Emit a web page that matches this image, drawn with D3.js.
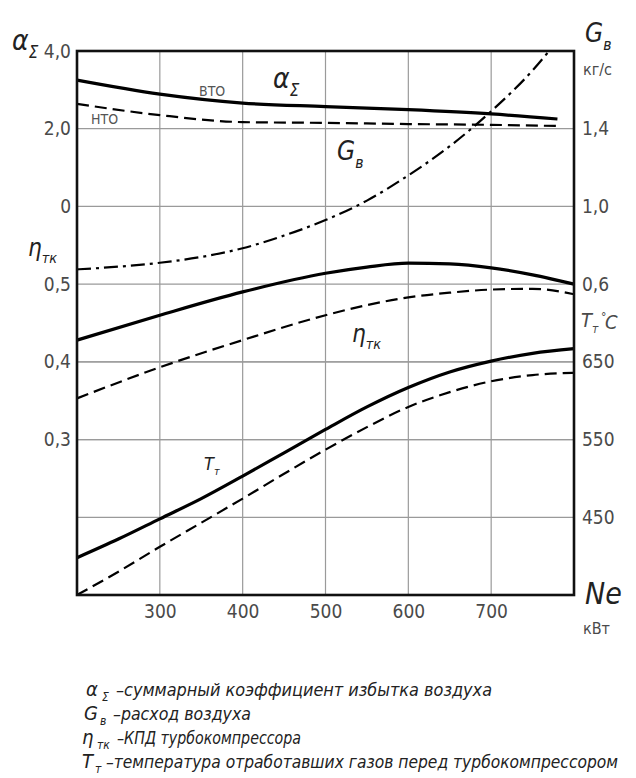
<!DOCTYPE html>
<html><head><meta charset="utf-8">
<script src="https://cdn.jsdelivr.net/npm/d3@7"></script>
<style>
html,body{margin:0;padding:0;background:#fff;}
svg text{font-family:"Liberation Sans Narrow","DejaVu Sans Condensed","Roboto",sans-serif;}
</style></head>
<body><svg id="c" width="636" height="778"></svg>
<script>
// ---- data ----
const alphaNe = [200, 300, 400, 500, 600, 700, 780];
const alphaHTO = [3.25, 2.89, 2.66, 2.57, 2.49, 2.38, 2.25];   // ВТО (solid)
const alphaLTO = [2.64, 2.35, 2.17, 2.15, 2.12, 2.10, 2.07];   // НТО (dashed)
const gNe = [200, 250, 300, 350, 400, 450, 500, 550, 600, 650, 700, 750, 770];
const gAir = [0.676, 0.69, 0.71, 0.74, 0.785, 0.85, 0.93, 1.03, 1.16, 1.31, 1.49, 1.70, 1.80];
const etaNe = [200, 300, 400, 500, 550, 600, 650, 700, 750, 800];
const etaHTO = [0.428, 0.46, 0.49, 0.514, 0.522, 0.527, 0.526, 0.521, 0.512, 0.50];
const etaLTO = [0.353, 0.393, 0.428, 0.46, 0.473, 0.483, 0.489, 0.493, 0.494, 0.487];
const tNe = [200, 250, 300, 350, 400, 450, 500, 550, 600, 650, 700, 750, 800];
const tHTO = [398, 422, 448, 474, 503, 533, 563, 592, 617, 637, 651, 661, 667];
const tLTO = [350, 380, 412, 443, 474, 506, 537, 566, 592, 611, 625, 633, 636];

const xTicks = [300, 400, 500, 600, 700];
const alphaTicks = [4.0, 2.0, 0];
const etaTicks = [0.5, 0.4, 0.3];
const gTicks = [1.4, 1.0, 0.6];
const tTicks = [650, 550, 450];

const legendSym = ["α", "G", "η", "T"];
const legendSub = ["Σ", "в", "тк", "т"];
const legendText = ["–суммарный коэффициент избытка воздуха", "–расход воздуха", "–КПД турбокомпрессора", "–температура отработавших газов перед турбокомпрессором"];

// ---- layout ----
const L = 77, R = 574, T = 51, B = 595;
const svg = d3.select("#c");
const x = d3.scaleLinear().domain([200, 800]).range([L, R]);
const row = d3.scaleLinear().domain([0, 7]).range([T, B]);
const yA = d3.scaleLinear().domain([4, 0]).range([row(0), row(2)]);
const yG = d3.scaleLinear().domain([1.8, 0.6]).range([row(0), row(3)]);
const yE = d3.scaleLinear().domain([0.6, 0.2]).range([row(2), row(6)]);
const yT = d3.scaleLinear().domain([650, 350]).range([row(4), row(7)]);
const fmt = v => (v === 0 ? "0" : v.toFixed(1).replace(".", ","));

const grey = "#4a4a4a";
// grid
const gridY = [...alphaTicks.map(yA), ...etaTicks.map(yE), ...tTicks.map(yT)].filter(v => v > T + 1 && v < B - 1);
svg.append("g").selectAll("line").data(gridY).join("line")
  .attr("x1", L).attr("x2", R).attr("y1", d => d).attr("y2", d => d)
  .attr("stroke", "#9a9a9a").attr("stroke-width", 1.2);
svg.append("g").selectAll("line").data(xTicks).join("line")
  .attr("x1", d => x(d)).attr("x2", d => x(d)).attr("y1", T).attr("y2", B)
  .attr("stroke", "#9a9a9a").attr("stroke-width", 1.2);

// axes (labels only)
function styleAxis(g) {
  g.select(".domain").remove();
  g.selectAll("text").attr("font-size", 19).attr("fill", grey)
   .attr("font-family", '"Liberation Sans Narrow","DejaVu Sans Condensed",Roboto,sans-serif');
}
styleAxis(svg.append("g").attr("transform", `translate(0,${B})`)
  .call(d3.axisBottom(x).tickValues(xTicks).tickSize(0).tickPadding(10).tickFormat(d => d)));
styleAxis(svg.append("g").attr("transform", `translate(${L},0)`)
  .call(d3.axisLeft(yA).tickValues(alphaTicks).tickSize(0).tickPadding(6).tickFormat(fmt)));
styleAxis(svg.append("g").attr("transform", `translate(${L},0)`)
  .call(d3.axisLeft(yE).tickValues(etaTicks).tickSize(0).tickPadding(6).tickFormat(fmt)));
styleAxis(svg.append("g").attr("transform", `translate(${R},0)`)
  .call(d3.axisRight(yG).tickValues(gTicks).tickSize(0).tickPadding(8).tickFormat(fmt)));
styleAxis(svg.append("g").attr("transform", `translate(${R},0)`)
  .call(d3.axisRight(yT).tickValues(tTicks).tickSize(0).tickPadding(8).tickFormat(d => d)));

// curves
function draw(xs, ys, yScale, style) {
  const pts = xs.map((v, i) => [x(v), yScale(ys[i])]);
  const p = svg.append("path").attr("d", d3.line().curve(d3.curveMonotoneX)(pts))
    .attr("fill", "none").attr("stroke", "#000")
    .attr("stroke-linecap", "butt").attr("stroke-linejoin", "round");
  if (style === "solid") p.attr("stroke-width", 3.2);
  if (style === "dash") p.attr("stroke-width", 2.2).attr("stroke-dasharray", "12,6");
  if (style === "dashdot") p.attr("stroke-width", 2.2).attr("stroke-dasharray", "14,5,3,5");
}
draw(alphaNe, alphaHTO, yA, "solid");
draw(alphaNe, alphaLTO, yA, "dash");
draw(gNe, gAir, yG, "dashdot");
draw(etaNe, etaHTO, yE, "solid");
draw(etaNe, etaLTO, yE, "dash");
draw(tNe, tHTO, yT, "solid");
draw(tNe, tLTO, yT, "dash");

// frame
svg.append("rect").attr("x", L).attr("y", T).attr("width", R - L).attr("height", B - T)
  .attr("fill", "none").attr("stroke", "#111").attr("stroke-width", 2.6);

// text helpers
function sym(xp, yp, main, sub, size, color) {
  const t = svg.append("text").attr("x", xp).attr("y", yp).attr("font-size", size)
    .attr("font-style", "italic").attr("fill", color || "#222");
  t.append("tspan").text(main);
  t.append("tspan").attr("dy", size * 0.3).attr("font-size", size * 0.6).text(sub);
  return t;
}
function plain(xp, yp, s, size, color, anchor) {
  return svg.append("text").attr("x", xp).attr("y", yp).attr("font-size", size)
    .attr("fill", color || grey).attr("text-anchor", anchor || "start").text(s);
}

// axis titles
sym(12, 50, "α", "Σ", 28);
sym(585, 42, "G", "в", 26);
plain(583, 75, "кг/с", 16);
sym(28, 256, "η", "тк", 24);
sym(581, 327, "T", "т", 20, grey);
plain(601, 321, "°", 12, grey);
svg.append("text").attr("x", 605).attr("y", 329).attr("font-size", 20).attr("font-style", "italic").attr("fill", grey).text("C");
svg.append("text").attr("x", 585).attr("y", 604).attr("font-size", 30).attr("font-style", "italic").attr("fill", "#222").text("Ne");
plain(583, 634, "кВт", 16);

// curve labels
plain(199, 96, "ВТО", 14, "#555");
plain(91, 124, "НТО", 14, "#555");
sym(273, 88, "α", "Σ", 28);
sym(337, 160, "G", "в", 26);
sym(352, 342, "η", "тк", 24);
sym(204, 470, "T", "т", 18);

// legend
const legY = [696, 720, 744, 768];
const legSymX = [86, 84, 82, 82];
const legSubX = [102, 100, 97, 95];
const legTxtX = [116, 113, 117, 106];
const legTxtW = [376, 138, 184, 512];
legendSym.forEach((s, i) => {
  svg.append("text").attr("x", legSymX[i]).attr("y", legY[i]).attr("font-size", 20)
    .attr("font-style", "italic").attr("fill", "#222").text(s);
  svg.append("text").attr("x", legSubX[i]).attr("y", legY[i] + 5).attr("font-size", 12)
    .attr("font-style", "italic").attr("fill", "#222").text(legendSub[i]);
  svg.append("text").attr("x", legTxtX[i]).attr("y", legY[i]).attr("font-size", 17)
    .attr("font-style", "italic").attr("fill", "#222")
    .attr("textLength", legTxtW[i]).attr("lengthAdjust", "spacingAndGlyphs").text(legendText[i]);
});
</script></body></html>
